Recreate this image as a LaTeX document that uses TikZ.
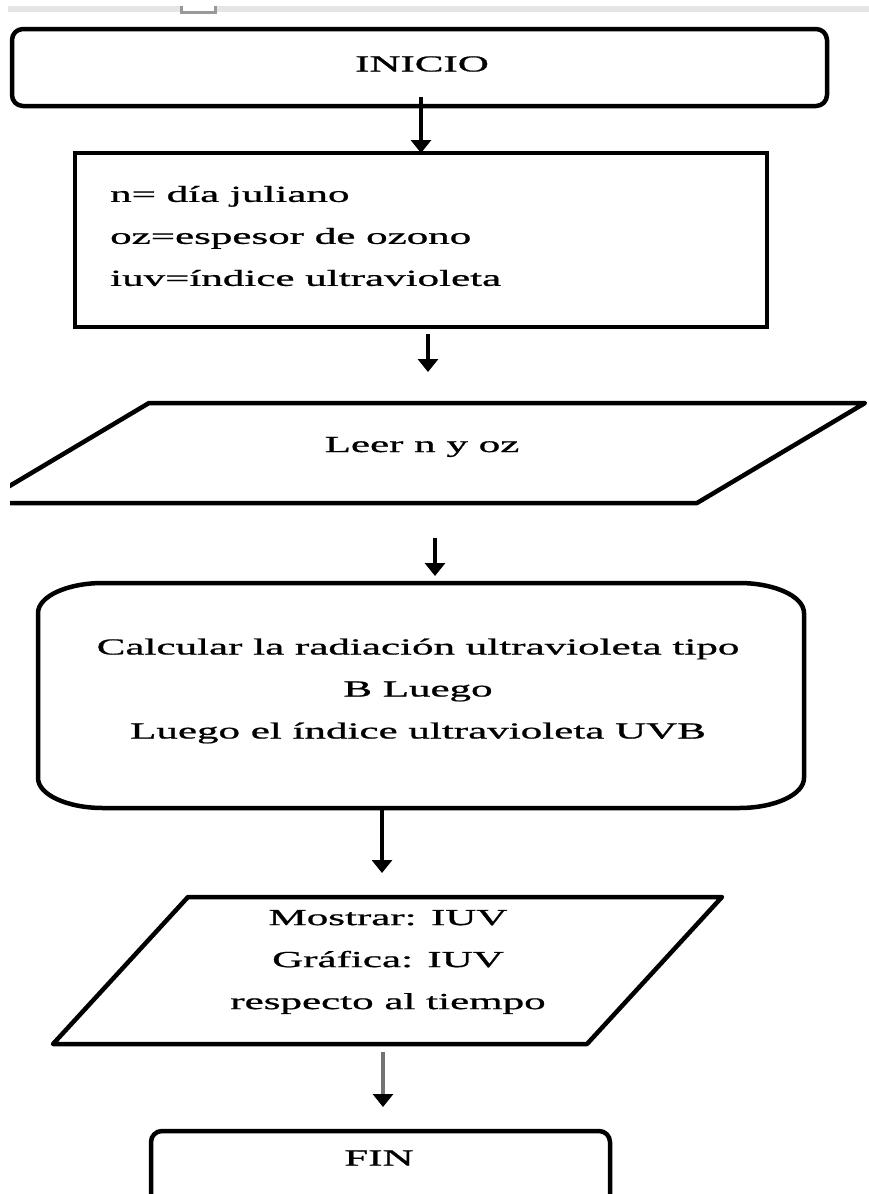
\documentclass[tikz,border=0pt]{standalone}
\usepackage{fontspec}
\setmainfont[FakeBold=0.7]{Liberation Serif}
\usepackage{graphicx}
\usetikzlibrary{arrows.meta}
\newcommand{\ancho}[1]{\scalebox{1.87}[1]{#1}}

\begin{document}
\begin{tikzpicture}[x=1pt, y=-1pt,
	flecha/.style={line width=3.2pt, -{Triangle[width=20pt,length=13pt]}},
	texto/.style={font=\fontsize{23}{42}\selectfont, align=center, inner sep=0pt},
	borde/.style={line width=4.5pt, line join=round}] %Inicio del diagrama, unidades en pixeles
				\useasboundingbox (0,0) rectangle (869,1194);
				\clip (0,0) rectangle (869,1194);
					%Barra superior
				\fill[black!10] (8,6) rectangle (869,12);
				\fill[white] (181,6) rectangle (215,11);
				\draw[black!40, line width=3pt] (181,6) -- (181,12) -- (215,12) -- (215,6); %Marca pequena
					%Bloques
				\draw[borde, rounded corners=11pt] (12,29) rectangle (827,106); %INICIO
				\draw[borde, line join=miter] (75,153) rectangle (767,327); %Variables
				\begin{scope}
					\clip (10,0) rectangle (869,1194);
					\draw[borde] (149,403) -- (865,403) -- (697,503) -- (-19,503) -- cycle; %Lectura
				\end{scope}
				\draw[borde] (103,583) -- (739,583) arc[start angle=-90, end angle=0, x radius=65, y radius=30]
					-- (804,778) arc[start angle=0, end angle=90, x radius=65, y radius=30]
					-- (103,808) arc[start angle=90, end angle=180, x radius=65, y radius=30]
					-- (38,613) arc[start angle=180, end angle=270, x radius=65, y radius=30] -- cycle; %Proceso
				\draw[borde] (188,897) -- (722,897) -- (587,1044) -- (53,1044) -- cycle; %Salida
				\draw[borde, rounded corners=11pt] (151,1240) -- (151,1131) -- (610,1131) -- (610,1240); %FIN
					%Textos
				\node[texto] (inicio) at (422,64) {\ancho{INICIO}};
				\node[texto, align=left, anchor=west] (datos) at (110,236) {\ancho{n= día juliano}\\\ancho{oz=espesor de ozono}\\\ancho{iuv=índice ultravioleta}};
				\node[texto] (leer) at (422,447) {\ancho{Leer n y oz}};
				\node[texto] (calculo) at (418,691) {\ancho{Calcular la radiación ultravioleta tipo}\\\ancho{B Luego}\\\ancho{Luego el índice ultravioleta UVB}};
				\node[texto] (mostrar) at (388,962) {\ancho{Mostrar: IUV}\\\ancho{Gráfica: IUV}\\\ancho{respecto al tiempo}};
				\node[texto] (fin) at (379,1158) {\ancho{FIN}};
					%Flechas
				\coordinate (f1a) at (421,97); \coordinate (f1b) at (421,153);
				\coordinate (f2a) at (428,334); \coordinate (f2b) at (428,372);
				\coordinate (f3a) at (435,538); \coordinate (f3b) at (435,576);
				\coordinate (f4a) at (382,808); \coordinate (f4b) at (382,873);
				\coordinate (f5a) at (383,1052); \coordinate (f5b) at (383,1107);
				\draw[flecha] (f1a) -- (f1b);
				\draw[flecha] (f2a) -- (f2b);
				\draw[flecha] (f3a) -- (f3b);
				\draw[flecha] (f4a) -- (f4b);
				\draw[flecha, draw=black!55, -{Triangle[width=20pt,length=13pt,color=black]}] (f5a) -- (f5b); %Flecha gris
			\end{tikzpicture}
\end{document}
